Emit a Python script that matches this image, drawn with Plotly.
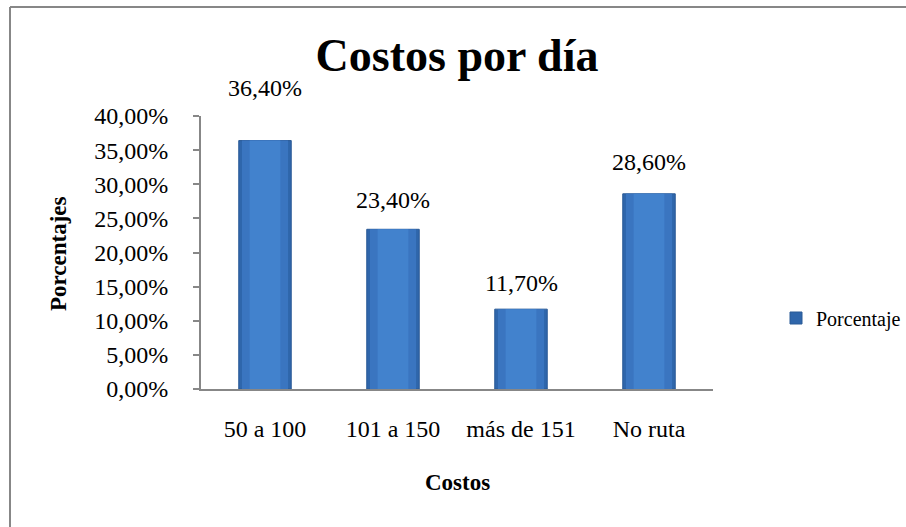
import plotly.graph_objects as go

# datos
categorias = ['50 a 100', '101 a 150', 'más de 151', 'No ruta']
porcentajes = [0.364, 0.234, 0.117, 0.286]
etiquetas = ['36,40%', '23,40%', '11,70%', '28,60%']
desplaz = [38, 14, 11, 17]   # separacion etiqueta / barra (px)

FUENTE = 'Liberation Serif'
GRIS = '#878787'

fig = go.Figure()

fig.add_trace(
    go.Bar(
        x = categorias,
        y = porcentajes,
        name = 'Porcentaje',
        width = 0.41,
        marker = dict(
            color = '#2F66AB',
            line = dict(color = '#2A5A96', width = 1)
            ),
        showlegend = True
    ))

# capas interiores para imitar el degradado de Excel
for ancho, color in [(0.36, '#3A75C0'), (0.24, '#4282CD')]:
    fig.add_trace(
        go.Bar(
            x = categorias,
            y = porcentajes,
            width = ancho,
            marker = dict(color = color, line = dict(width = 0)),
            showlegend = False,
            hoverinfo = 'skip'
        ))

for cat, val, txt, dy in zip(categorias, porcentajes, etiquetas, desplaz):
    fig.add_annotation(
        x = cat, y = val, text = txt, showarrow = False,
        yanchor = 'bottom', yshift = dy,
        font = dict(family = FUENTE, size = 24, color = 'black'))

fig.add_annotation(
    xref = 'paper', yref = 'paper', x = (58 - 201) / 512, y = (389 - 254) / 273,
    xanchor = 'center', yanchor = 'middle',
    text = '<b>Porcentajes</b>', textangle = -90, showarrow = False,
    font = dict(family = FUENTE, size = 23, color = 'black'))

fig.add_annotation(
    xref = 'paper', yref = 'paper', x = (457 - 201) / 512, y = -(482 - 389) / 273,
    xanchor = 'center', yanchor = 'middle',
    text = '<b>Costos</b>', showarrow = False,
    font = dict(family = FUENTE, size = 23, color = 'black'))

# marco del grafico (solo se ven los bordes izquierdo y superior)
fig.add_shape(type = 'line', xref = 'paper', yref = 'paper',
              x0 = (10 - 201) / 512, x1 = (10 - 201) / 512,
              y0 = (389 - 540) / 273, y1 = (389 - 7) / 273,
              line = dict(color = GRIS, width = 2))
fig.add_shape(type = 'line', xref = 'paper', yref = 'paper',
              x0 = (10 - 201) / 512, x1 = (920 - 201) / 512,
              y0 = (389 - 7) / 273, y1 = (389 - 7) / 273,
              line = dict(color = GRIS, width = 2))

fig.update_layout(
    width = 906, height = 527,
    barmode = 'overlay',
    separators = ',.',
    paper_bgcolor = 'white',
    plot_bgcolor = 'white',
    font = dict(family = FUENTE, size = 24, color = 'black'),
    margin = dict(l = 201, r = 193, t = 116, b = 138),
    title = dict(
        text = '<b>Costos por día</b>',
        x = 457 / 906, xanchor = 'center',
        y = 1 - 55 / 527, yanchor = 'middle',
        font = dict(family = FUENTE, size = 46, color = 'black')),
    legend = dict(
        xref = 'container', yref = 'container',
        x = 776 / 906, y = 1 - 318 / 527,
        xanchor = 'left', yanchor = 'middle',
        font = dict(family = FUENTE, size = 20),
        itemwidth = 30),
    xaxis = dict(
        showline = True, linecolor = GRIS, linewidth = 2,
        ticks = '', ticklabelstandoff = 17,
        tickfont = dict(size = 24),
        showgrid = False),
    yaxis = dict(
        range = [0, 0.4], dtick = 0.05, tickformat = '.2%',
        showline = True, linecolor = GRIS, linewidth = 2,
        ticks = 'outside', ticklen = 6, tickcolor = GRIS, tickwidth = 2,
        ticklabelstandoff = 20,
        tickfont = dict(size = 24),
        showgrid = False, zeroline = False)
)
fig.update_shapes(layer = 'below')

# sin margen en el body para que la figura ocupe la ventana
fig.write_html("out.html", config = {'displayModeBar': False},
               post_script = "document.body.style.margin='0px';")
